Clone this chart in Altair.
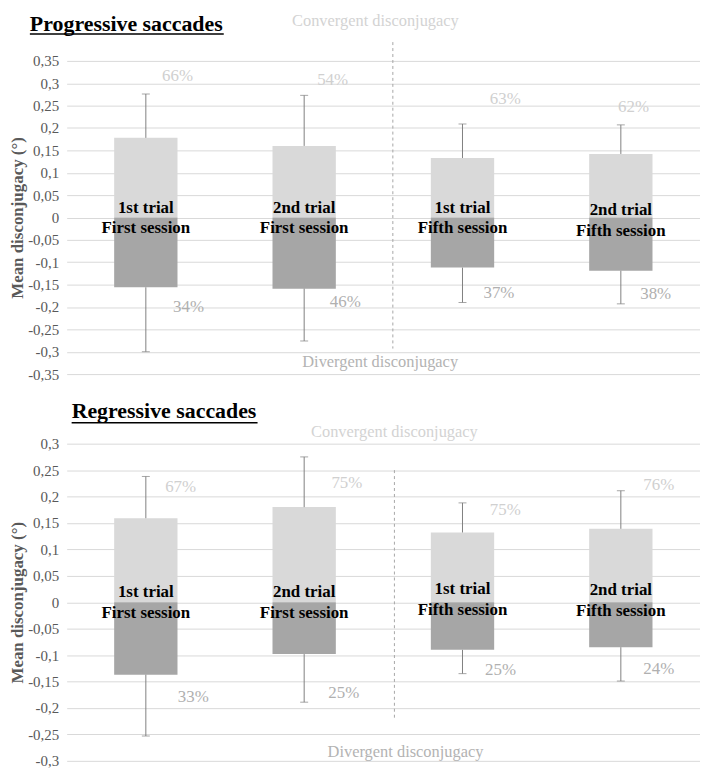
import altair as alt
import pandas as pd

# ---------------- data ----------------
trials = ["1st trial", "2nd trial", "1st trial", "2nd trial"]
sessions = ["First session", "First session", "Fifth session", "Fifth session"]
cat_index = [0, 1, 2, 3]

# Progressive saccades
prog_conv = [0.178, 0.160, 0.133, 0.142]
prog_conv_err = [0.276, 0.273, 0.209, 0.207]
prog_div = [-0.156, -0.159, -0.112, -0.119]
prog_div_err = [-0.300, -0.276, -0.190, -0.193]
prog_conv_pct = ["66%", "54%", "63%", "62%"]
prog_div_pct = ["34%", "46%", "37%", "38%"]

# Regressive saccades
reg_conv = [0.159, 0.180, 0.132, 0.139]
reg_conv_err = [0.238, 0.275, 0.188, 0.211]
reg_div = [-0.137, -0.098, -0.090, -0.085]
reg_div_err = [-0.253, -0.189, -0.135, -0.149]
reg_conv_pct = ["67%", "75%", "75%", "76%"]
reg_div_pct = ["33%", "25%", "25%", "24%"]

# annotation anchors (data units)
prog_cpct_x = [0.70, 1.68, 2.77, 3.58]
prog_cpct_y = [0.316, 0.308, 0.265, 0.248]
prog_dpct_x = [0.77, 1.76, 2.73, 3.72]
prog_dpct_y = [-0.200, -0.190, -0.168, -0.172]
prog_lab_y = [0.0, 0.0, 0.0, -0.006]

reg_cpct_x = [0.72, 1.77, 2.77, 3.74]
reg_cpct_y = [0.218, 0.226, 0.174, 0.221]
reg_dpct_x = [0.80, 1.75, 2.74, 3.74]
reg_dpct_y = [-0.180, -0.172, -0.128, -0.126]
reg_lab_y = [0.0, 0.0, 0.006, 0.0045]

prog_ticks = [-0.35, -0.3, -0.25, -0.2, -0.15, -0.1, -0.05, 0, 0.05, 0.1, 0.15, 0.2, 0.25, 0.3, 0.35]
reg_ticks = [-0.3, -0.25, -0.2, -0.15, -0.1, -0.05, 0, 0.05, 0.1, 0.15, 0.2, 0.25, 0.3]

SERIF = "Liberation Serif"
W = 637

label_expr = "replace(replace(format(datum.value, '.2~f'), '.', ','), '\u2212', '-')"


def panel(conv, conv_err, div, div_err, cpct, dpct, cpx, cpy, dpx, dpy, lab_y,
          ticks, height, title, title_x, title_w, title_base, underline_y,
          conv_pos, div_pos, dash):
    df = pd.DataFrame({
        "idx": cat_index, "trial": trials, "session": sessions,
        "conv": conv, "conv_err": conv_err, "div": div, "div_err": div_err,
        "cpct": cpct, "dpct": dpct, "cpx": cpx, "cpy": cpy, "dpx": dpx, "dpy": dpy,
        "lab_y": lab_y,
    })
    dom = [ticks[0], ticks[-1]]
    xs = alt.Scale(domain=[0, 4], nice=False, zero=False)
    ys = alt.Scale(domain=dom, nice=False, zero=False)

    yaxis = alt.Axis(
        values=ticks, labelExpr=label_expr, grid=True, gridColor="#d9d9d9",
        domain=False, ticks=False, labelPadding=8, labelFont=SERIF,
        labelFontSize=15, labelColor="#595959", title="Mean disconjugacy (°)",
        titleFont=SERIF, titleFontSize=17, titleFontWeight="bold",
        titleColor="#595959", titlePadding=1,
    )

    def X(f):
        return alt.X(f, scale=xs, axis=None)

    def Y(f):
        return alt.Y(f, scale=ys, axis=yaxis)

    base = alt.Chart(df).transform_calculate(
        center="datum.idx + 0.5",
        left="datum.idx + 0.3",
        right="datum.idx + 0.7",
        zero="0",
    )

    conv_bar = base.mark_rect(color="#d9d9d9").encode(
        x=X("left:Q"), x2="right:Q", y=Y("conv:Q"), y2="zero:Q")
    div_bar = base.mark_rect(color="#a6a6a6").encode(
        x=X("left:Q"), x2="right:Q", y=Y("div:Q"), y2="zero:Q")
    err_up = base.mark_rule(color="#808080", strokeWidth=1).encode(
        x=X("center:Q"), y=Y("conv:Q"), y2="conv_err:Q")
    err_dn = base.mark_rule(color="#808080", strokeWidth=1).encode(
        x=X("center:Q"), y=Y("div:Q"), y2="div_err:Q")
    cap_up = base.mark_tick(color="#808080", orient="horizontal", size=8, thickness=1).encode(
        x=X("center:Q"), y=Y("conv_err:Q"))
    cap_dn = base.mark_tick(color="#808080", orient="horizontal", size=8, thickness=1).encode(
        x=X("center:Q"), y=Y("div_err:Q"))
    lab1 = base.mark_text(font=SERIF, fontSize=17, fontWeight="bold", color="black",
                          baseline="middle", dy=-10).encode(
        x=X("center:Q"), y=Y("lab_y:Q"), text="trial:N")
    lab2 = base.mark_text(font=SERIF, fontSize=17, fontWeight="bold", color="black",
                          baseline="middle", dy=11).encode(
        x=X("center:Q"), y=Y("lab_y:Q"), text="session:N")
    cp = base.mark_text(font=SERIF, fontSize=17, color="#d0d0d0", baseline="middle").encode(
        x=X("cpx:Q"), y=Y("cpy:Q"), text="cpct:N")
    dp = base.mark_text(font=SERIF, fontSize=17, color="#b0b0b0", baseline="middle").encode(
        x=X("dpx:Q"), y=Y("dpy:Q"), text="dpct:N")

    ann = pd.DataFrame({
        "x": [conv_pos[0], div_pos[0]],
        "y": [conv_pos[1], div_pos[1]],
        "text": ["Convergent disconjugacy", "Divergent disconjugacy"],
        "kind": ["conv", "div"],
    })
    ann_text = alt.Chart(ann).mark_text(font=SERIF, fontSize=16.5, baseline="middle").encode(
        x=X("x:Q"), y=Y("y:Q"), text="text:N",
        color=alt.Color("kind:N", scale=alt.Scale(domain=["conv", "div"],
                                                   range=["#d3d3d3", "#b3b3b3"]), legend=None),
    )

    dash_df = pd.DataFrame({"x": [dash[0]], "y": [dash[1]], "y2": [dash[2]]})
    dash_rule = alt.Chart(dash_df).mark_rule(color="#a6a6a6", strokeDash=[3, 3], strokeWidth=1).encode(
        x=X("x:Q"), y=Y("y:Q"), y2="y2:Q")

    title_df = pd.DataFrame({"t": [title]})
    title_text = alt.Chart(title_df).mark_text(
        font=SERIF, fontSize=22, fontWeight="bold", color="black",
        align="left", baseline="alphabetic").encode(
        x=alt.value(title_x), y=alt.value(title_base), text="t:N")
    underline = alt.Chart(title_df).mark_rule(color="black", strokeWidth=1.5).encode(
        x=alt.value(title_x), x2=alt.value(title_x + title_w),
        y=alt.value(underline_y))

    return alt.layer(
        conv_bar, div_bar, err_up, err_dn, cap_up, cap_dn, dash_rule,
        lab1, lab2, cp, dp, ann_text, title_text, underline,
    ).properties(width=W, height=height)


top = panel(prog_conv, prog_conv_err, prog_div, prog_div_err, prog_conv_pct, prog_div_pct,
            prog_cpct_x, prog_cpct_y, prog_dpct_x, prog_dpct_y, prog_lab_y,
            prog_ticks, 315, "Progressive saccades", -37, 195, -30, -27,
            (1.95, 0.439), (1.98, -0.324), (2.06, 0.392, -0.293))

bottom = panel(reg_conv, reg_conv_err, reg_div, reg_div_err, reg_conv_pct, reg_div_pct,
               reg_cpct_x, reg_cpct_y, reg_dpct_x, reg_dpct_y, reg_lab_y,
               reg_ticks, 319, "Regressive saccades", 5, 187, -26, -21,
               (2.07, 0.322), (2.14, -0.283), (2.07, 0.25, -0.22))

chart = alt.vconcat(top, bottom, spacing=18).properties(
    padding={"left": 0, "top": 2, "right": 0, "bottom": 0}
).configure_view(stroke=None)

chart.save("out.html", embed_options={"renderer": "svg", "actions": False})
